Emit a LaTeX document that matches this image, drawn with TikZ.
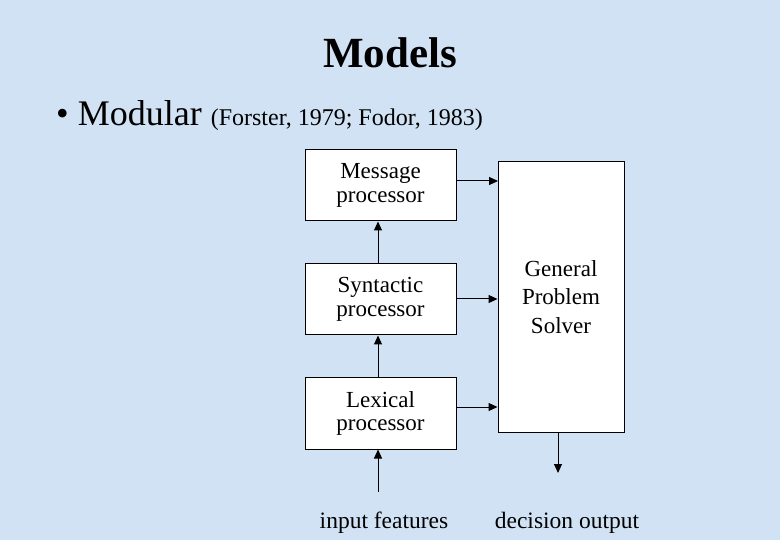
\documentclass[tikz,border=0pt]{standalone}
\usepackage{fontspec}
\setmainfont{Liberation Serif}
\usetikzlibrary{arrows.meta}
\definecolor{bg}{RGB}{208,226,244}
\begin{document}
\begin{tikzpicture}[x=1pt,y=-1pt,
  box/.style={draw,fill=white,line width=1pt,inner sep=0pt,align=center,font=\fontsize{23}{23.5}\selectfont},
  arr/.style={-{Triangle[length=9pt,width=8pt]},line width=1pt},
  lbl/.style={font=\fontsize{23.5}{26}\selectfont,inner sep=0pt}]
\fill[bg] (0,0) rectangle (780,540);
\useasboundingbox (0,0) rectangle (780,540);
\node[font=\fontsize{43}{46}\selectfont\bfseries] (title) at (390,53) {Models};
\node[anchor=west,inner sep=0pt] (bullet) at (56,116) {\fontsize{36}{40}\selectfont • Modular \fontsize{24}{26}\selectfont(Forster, 1979; Fodor, 1983)};
\node[box,minimum width=151pt,minimum height=71pt] (msg) at (380.5,185.5) {Message\\processor};
\node[box,minimum width=151pt,minimum height=71pt] (syn) at (380.5,299.5) {Syntactic\\processor};
\node[box,minimum width=151pt,minimum height=71pt] (lex) at (380.5,413.5) {Lexical\\processor};
\node[box,minimum width=126pt,minimum height=270pt,font=\fontsize{23}{28.5}\selectfont] (gps) at (561,297) {General\\Problem\\Solver};
\coordinate (lm) at (456,181);
\coordinate (gm) at (498,181);
\draw[arr] (lm) -- (gm);
\draw[arr] (456,299) -- (gps.west |- 0,299);
\draw[arr] (456,407) -- (gps.west |- 0,407);
\draw[arr] (syn.north -| 378,0) -- (msg.south -| 378,0);
\draw[arr] (lex.north -| 378,0) -- (syn.south -| 378,0);
\coordinate (in) at (378,492);
\draw[arr] (in) -- (lex.south -| 378,0);
\coordinate (out) at (558,473);
\draw[arr] (gps.south -| 558,0) -- (out);
\node[lbl] (inl) at (384,523) {input features};
\node[lbl] (outl) at (567,523) {decision output};
\end{tikzpicture}
\end{document}
